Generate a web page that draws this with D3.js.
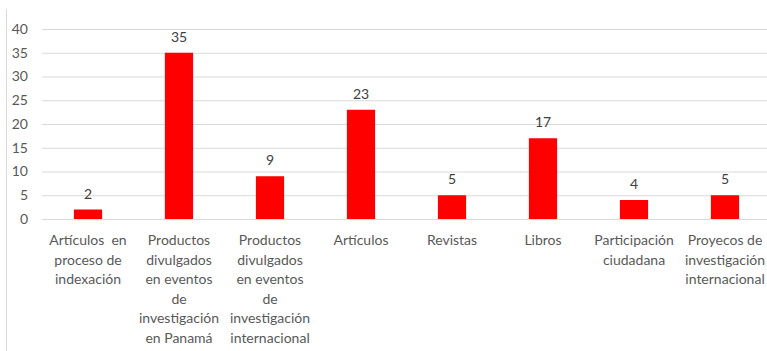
<!DOCTYPE html>
<html>
<head>
<meta charset="utf-8">
<script src="https://cdn.jsdelivr.net/npm/d3@7"></script>
<style>
  html, body { margin: 0; padding: 0; background: #fff; }
  svg { display: block; }
</style>
</head>
<body>
<svg id="chart" width="767" height="351"></svg>
<script>
// Category labels, each split into the lines it is drawn on
const categories = [
  ["Artículos  en", "proceso de", "indexación"],
  ["Productos", "divulgados", "en eventos", "de", "investigación", "en Panamá"],
  ["Productos", "divulgados", "en eventos", "de", "investigación", "internacional"],
  ["Artículos"],
  ["Revistas"],
  ["Libros"],
  ["Participación", "ciudadana"],
  ["Proyecos de", "investigación", "internacional"]
];
const values = [2, 35, 9, 23, 5, 17, 4, 5];
const yTicks = [0, 5, 10, 15, 20, 25, 30, 35, 40];

const svg = d3.select("#chart");
const font = "Lato, 'Open Sans', sans-serif";

const x = d3.scaleBand()
  .domain(d3.range(values.length))
  .range([42.5, 770.5])
  .paddingInner(0.69)
  .paddingOuter(0.345);

const y = d3.scaleLinear().domain([0, 40]).range([219, 29]);

// Frame line on the left edge
svg.append("line")
  .attr("x1", 6.5).attr("x2", 6.5)
  .attr("y1", 9).attr("y2", 351)
  .attr("stroke", "#d9d9d9").attr("stroke-width", 1);

// Horizontal gridlines and tick labels
const yAxis = d3.axisLeft(y)
  .tickValues(yTicks)
  .tickSize(-(770 - 42))
  .tickPadding(14);

const gy = svg.append("g")
  .attr("transform", "translate(42,0)")
  .call(yAxis);
gy.select(".domain").remove();
gy.selectAll(".tick line").attr("stroke", "#d9d9d9").attr("stroke-width", 1);
gy.selectAll(".tick text")
  .attr("fill", "#595959")
  .style("font-family", font)
  .style("font-size", "14px");

// Bars
svg.append("g").selectAll("rect")
  .data(values)
  .join("rect")
  .attr("x", (d, i) => x(i))
  .attr("width", x.bandwidth())
  .attr("y", d => y(d))
  .attr("height", d => y(0) - y(d))
  .attr("fill", "#ff0000");

// Value labels above the bars
svg.append("g").selectAll("text")
  .data(values)
  .join("text")
  .attr("x", (d, i) => x(i) + x.bandwidth() / 2)
  .attr("y", d => y(d) - 11)
  .attr("text-anchor", "middle")
  .attr("fill", "#404040")
  .style("font-family", font)
  .style("font-size", "14px")
  .text(d => d);

// Category labels beneath the axis
const cat = svg.append("g").selectAll("text")
  .data(categories)
  .join("text")
  .attr("x", (d, i) => x(i) + x.bandwidth() / 2)
  .attr("y", 245)
  .attr("text-anchor", "middle")
  .attr("fill", "#595959")
  .style("font-family", font)
  .style("font-size", "14px");

cat.selectAll("tspan")
  .data(d => d)
  .join("tspan")
  .attr("x", function () { return d3.select(this.parentNode).attr("x"); })
  .attr("dy", (d, i) => i === 0 ? 0 : 19.5)
  .style("white-space", "pre")
  .text(d => d);
</script>
</body>
</html>
